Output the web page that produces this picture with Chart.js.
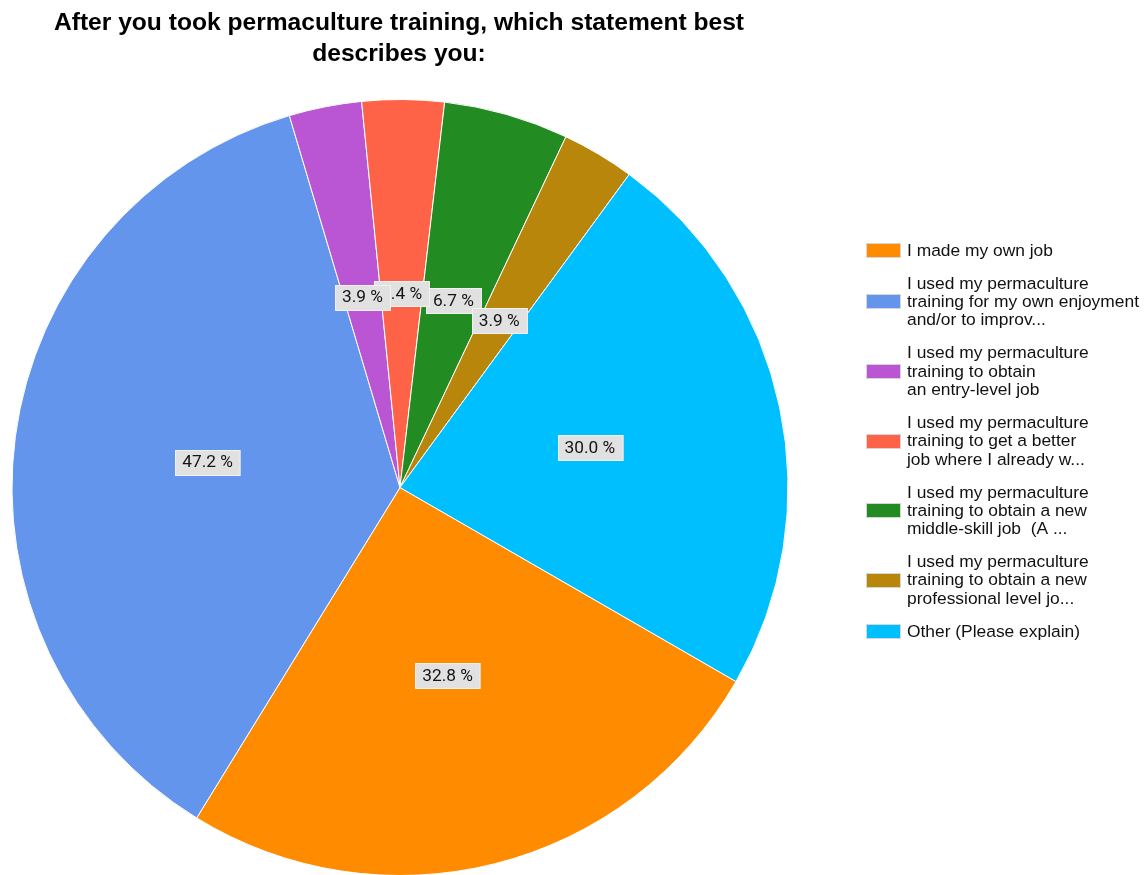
<!DOCTYPE html>
<html><head><meta charset="utf-8">
<script src="https://cdn.jsdelivr.net/npm/chart.js@4.4.1/dist/chart.umd.min.js"></script>
<style>html,body{margin:0;padding:0;background:#fff}#wrap{width:1145px;height:875px;position:relative}</style>
</head><body><div id="wrap"><canvas id="c" width="1145" height="875"></canvas></div>
<script>
const titleLines = ["After you took permaculture training, which statement best", "describes you:"];
const categories = [
  ["I made my own job"],
  ["I used my permaculture", "training for my own enjoyment", "and/or to improv..."],
  ["I used my permaculture", "training to obtain", "an entry-level job"],
  ["I used my permaculture", "training to get a better", "job where I already w..."],
  ["I used my permaculture", "training to obtain a new", "middle-skill job  (A ..."],
  ["I used my permaculture", "training to obtain a new", "professional level jo..."],
  ["Other (Please explain)"]
];
const values = [32.8, 47.2, 3.9, 4.4, 6.7, 3.9, 30.0];
const colors = ["#FF8C00", "#6495ED", "#BA55D3", "#FF6347", "#228B22", "#B8860B", "#00BFFF"];

const bgPlugin = {
  id: 'bg',
  beforeDraw(chart) {
    const ctx = chart.ctx;
    ctx.save(); ctx.fillStyle = '#fff'; ctx.fillRect(0, 0, chart.width, chart.height); ctx.restore();
  }
};

const titlePlugin = {
  id: 'titleDraw',
  afterDraw(chart) {
    const ctx = chart.ctx;
    ctx.save();
    ctx.font = 'bold 24.6px "Liberation Sans", Arial, sans-serif';
    ctx.fillStyle = '#000';
    ctx.textAlign = 'center';
    ctx.textBaseline = 'middle';
    titleLines.forEach((t, i) => ctx.fillText(t, 399, 23 + i * 31));
    ctx.restore();
  }
};

const labelPlugin = {
  id: 'sliceLabels',
  afterDatasetsDraw(chart) {
    const ctx = chart.ctx;
    const meta = chart.getDatasetMeta(0);
    const order = values.map((v, i) => i).sort((a, b) => values[b] - values[a]);
    ctx.save();
    ctx.font = '17.3px Roboto, "Liberation Sans", sans-serif';
    ctx.textAlign = 'center';
    ctx.textBaseline = 'middle';
    order.forEach(i => {
      const arc = meta.data[i];
      const p = arc.getCenterPoint();
      const txt = values[i].toFixed(1) + ' %';
      const w = ctx.measureText(txt).width + 14;
      const h = 25;
      const x = Math.round(p.x - w / 2) + 0.5, y = Math.round(p.y - h / 2) + 0.5;
      ctx.fillStyle = '#e1e1e1';
      ctx.fillRect(x, y, w, h);
      ctx.strokeStyle = '#f2f2f2';
      ctx.lineWidth = 1;
      ctx.strokeRect(x, y, w, h);
      ctx.fillStyle = '#141414';
      ctx.fillText(txt, p.x, p.y + 1);
    });
    ctx.restore();
  }
};

const legendPlugin = {
  id: 'legendDraw',
  afterDraw(chart) {
    const ctx = chart.ctx;
    ctx.save();
    ctx.font = '17.4px "Liberation Sans", Arial, sans-serif';
    ctx.textBaseline = 'middle';
    ctx.textAlign = 'left';
    const lh = 18.3, gap = 33;
    let y = 250;
    categories.forEach((lines, i) => {
      const mid = y + (lines.length - 1) * lh / 2;
      ctx.fillStyle = colors[i];
      ctx.fillRect(867, Math.round(mid - 6), 33, 13);
      ctx.strokeStyle = '#d6d6d6';
      ctx.lineWidth = 1;
      ctx.strokeRect(866.5, Math.round(mid - 6) - 0.5, 34, 14);
      ctx.fillStyle = '#111';
      lines.forEach((l, j) => ctx.fillText(l, 907, y + j * lh + 1));
      y += (lines.length - 1) * lh + gap;
    });
    ctx.restore();
  }
};

new Chart(document.getElementById('c'), {
  type: 'pie',
  data: {
    labels: categories,
    datasets: [{
      data: values,
      backgroundColor: colors,
      borderColor: '#ffffff',
      borderWidth: 1
    }]
  },
  options: {
    responsive: false,
    animation: false,
    rotation: 120,
    radius: 388,
    layout: { padding: { left: 0, right: 345, top: 100, bottom: 0 } },
    plugins: { legend: { display: false }, title: { display: false }, tooltip: { enabled: false } }
  },
  plugins: [bgPlugin, labelPlugin, titlePlugin, legendPlugin]
});
</script></body></html>
